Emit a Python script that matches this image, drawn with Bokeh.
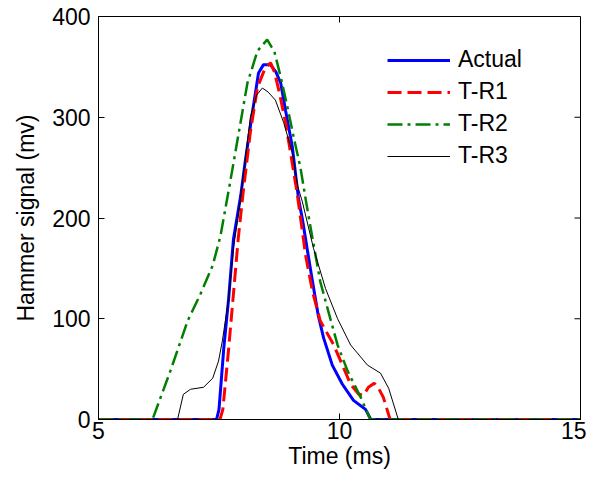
import math
from bokeh.plotting import figure
from bokeh.models import Range1d, FixedTicker, Legend, LegendItem
from bokeh.embed import file_html
from bokeh.resources import INLINE

# ---- data ----
actual_x = [5.0, 7.45, 7.5, 7.6, 7.7, 7.8, 7.95, 8.05, 8.2, 8.32, 8.42, 8.57, 8.68, 8.78, 8.88,
            9.02, 9.15, 9.23, 9.33, 9.44, 9.56, 9.67, 9.85, 10.06, 10.29, 10.54, 10.65, 15.0]
actual_y = [0, 0, 10, 71, 120, 179, 222, 258, 307, 344, 352, 352, 345, 334, 307,
            271, 219, 199, 169, 137, 103, 81, 54, 35, 19, 10, 0, 0]

tr1_x = [5.0, 7.52, 7.58, 7.7, 7.8, 7.9, 8.0, 8.15, 8.3, 8.45, 8.57, 8.65, 8.75, 8.88, 9.0,
         9.12, 9.3, 9.44, 9.6, 9.88, 10.06, 10.23, 10.4, 10.5, 10.6, 10.72, 10.8, 10.91, 11.05, 15.0]
tr1_y = [0, 0, 10, 70, 125, 180, 225, 285, 330, 348, 354, 345, 325, 295, 260,
         225, 162, 127, 98, 74, 54, 35, 25, 24, 32, 36, 32, 22, 0, 0]

tr2_x = [5.0, 6.12, 6.49, 6.85, 7.12, 7.37, 7.53, 7.74, 8.09, 8.30, 8.5, 8.65, 8.78, 8.92,
         9.05, 9.19, 9.3, 9.38, 9.6, 9.77, 9.96, 10.17, 10.44, 10.64, 15.0]
tr2_y = [0, 0, 48, 98, 125, 153, 182, 238, 334, 366, 377, 365, 340, 310,
         280, 250, 218, 196, 137, 107, 74, 48, 22, 0, 0]

tr3_x = [5.0, 6.64, 6.76, 6.91, 7.18, 7.37, 7.49, 7.57, 7.7, 7.8, 7.95, 8.05, 8.15, 8.28, 8.40,
         8.52, 8.67, 8.84, 9.02, 9.13, 9.23, 9.46, 9.71, 9.96, 10.23, 10.58, 10.85, 11.02, 11.22, 15.0]
tr3_y = [0, 0, 25, 30, 32, 41, 58, 78, 120, 170, 220, 260, 300, 322, 329,
         325, 317, 295, 265, 232, 216, 170, 130, 100, 74, 54, 46, 31, 0, 0]

series_names = ["Actual", "T-R1", "T-R2", "T-R3"]
x_ticks = [5, 10, 15]
y_ticks = [0, 100, 200, 300, 400]

FONT = "Liberation Sans"
FS = "23px"

x_rng = Range1d(5, 15)
y_rng = Range1d(0, 400)

p = figure(width=586, height=472, output_backend="svg", toolbar_location=None,
           x_range=x_rng, y_range=y_rng,
           min_border_left=98, min_border_right=6, min_border_top=16, min_border_bottom=53,
           x_axis_label="Time (ms)", y_axis_label="Hammer signal (mv)")
p.grid.visible = False
p.outline_line_color = "black"
p.outline_line_width = 1
p.background_fill_color = "white"
p.border_fill_color = "white"

def style_axis(ax, ticks):
    ax.ticker = FixedTicker(ticks=ticks)
    ax.major_tick_in = 6
    ax.major_tick_out = 0
    ax.minor_tick_line_color = None
    ax.axis_line_color = "black"
    ax.major_tick_line_color = "black"
    ax.major_label_text_font = FONT
    ax.major_label_text_font_size = FS
    ax.major_label_text_color = "black"
    ax.axis_label_text_font = FONT
    ax.axis_label_text_font_size = FS
    ax.axis_label_text_font_style = "normal"
    ax.axis_label_text_color = "black"

style_axis(p.xaxis[0], x_ticks)
style_axis(p.yaxis[0], y_ticks)
p.xaxis[0].major_label_standoff = 2
p.xaxis[0].axis_label_standoff = 1
p.yaxis[0].major_label_standoff = 8
p.yaxis[0].axis_label_standoff = 10

# mirrored inward ticks on the top and right edges (box style)
p.ray(x=x_ticks, y=[y_rng.end] * len(x_ticks), length=6, length_units="screen",
      angle=-math.pi / 2, line_color="black", line_width=1)
p.ray(x=[x_rng.end] * len(y_ticks), y=y_ticks, length=6, length_units="screen",
      angle=math.pi, line_color="black", line_width=1)

r0 = p.line(actual_x, actual_y, line_color="#0000FF", line_width=3)
r1 = p.line(tr1_x, tr1_y, line_color="#FF0000", line_width=3, line_dash="14 6")
r2 = p.line(tr2_x, tr2_y, line_color="#008000", line_width=2.5, line_dash="15 5 3 5")
r3 = p.line(tr3_x, tr3_y, line_color="#000000", line_width=1)

legend = Legend(items=[LegendItem(label=n, renderers=[r]) for n, r in zip(series_names, [r0, r1, r2, r3])],
                location=(289, 250))
legend.border_line_color = None
legend.background_fill_alpha = 0
legend.padding = 0
legend.margin = 0
legend.spacing = 5
legend.glyph_width = 63
legend.glyph_height = 20
legend.label_height = 20
legend.label_standoff = 8
legend.label_text_font = FONT
legend.label_text_font_size = FS
legend.label_text_color = "black"
p.add_layout(legend, "center")

open("out.html", "w").write(file_html(p, INLINE))
